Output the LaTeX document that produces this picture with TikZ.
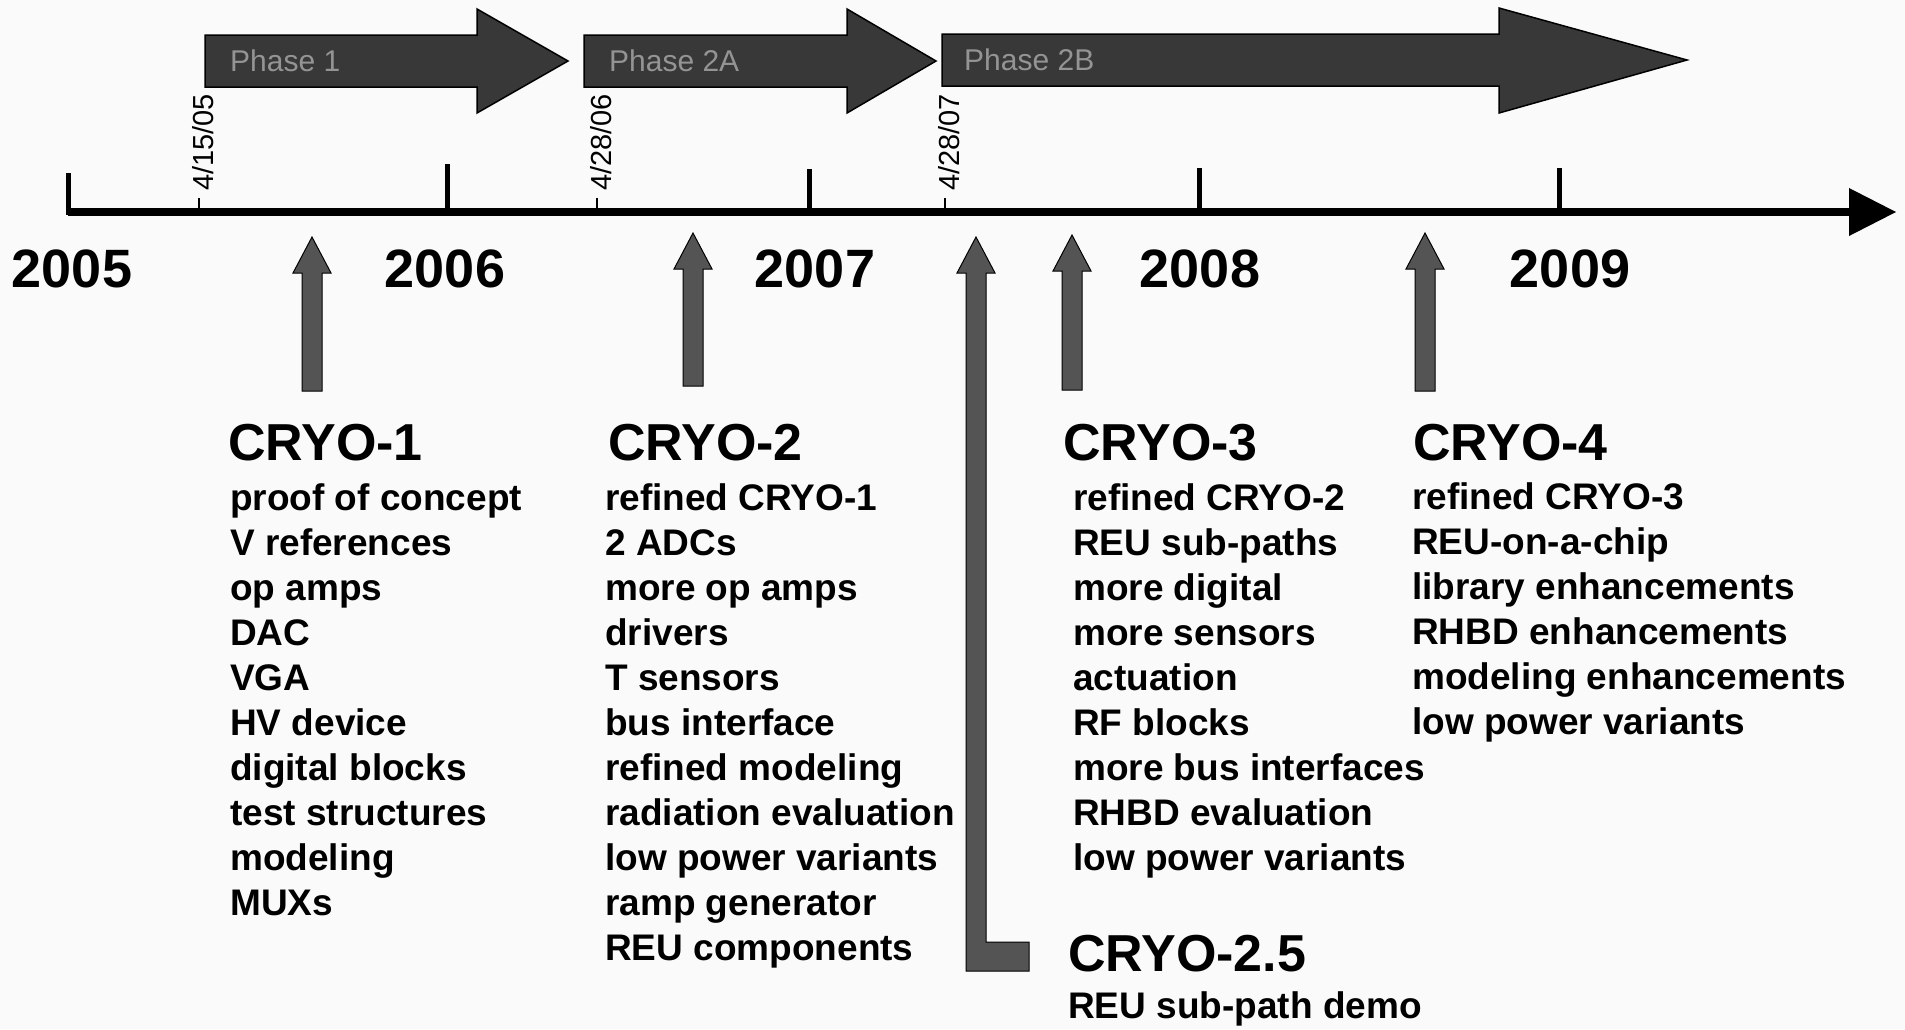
\documentclass[tikz,border=0pt]{standalone}
\usepackage{fontspec}
\setmainfont{Liberation Sans}
\usepackage{tikz}
\usepackage{xcolor}
\definecolor{paper}{rgb}{0.98,0.98,0.98}
\definecolor{phasefill}{rgb}{0.22,0.22,0.22}
\definecolor{phasetext}{rgb}{0.58,0.58,0.58}
\definecolor{arrowfill}{rgb}{0.33,0.33,0.33}

\begin{document}
\begin{tikzpicture}[x=1pt, y=-1pt,
  year/.style={font=\fontsize{54}{60}\selectfont\bfseries, anchor=base, inner sep=0},
  datelabel/.style={font=\fontsize{29}{32}\selectfont, rotate=90, anchor=west, inner sep=0},
  phase/.style={font=\fontsize{30}{34}\selectfont, text=phasetext, anchor=west, inner sep=0},
  title/.style={font=\fontsize{52}{60}\selectfont\bfseries, anchor=base west, inner sep=0},
  item/.style={font=\fontsize{37}{45}\selectfont\bfseries, anchor=base west, inner sep=0},
  phasearrow/.style={fill=phasefill, draw=black, line width=1.5},
  cryoarrow/.style={fill=arrowfill, draw=black, line width=1}]
%		\draw[help lines] (0,0) grid (1905,1029);
\fill[paper] (0,0) rectangle (1905,1029);
\useasboundingbox (0,0) rectangle (1905,1029);

% phases
\draw[phasearrow] (205,35) -- (477,35) -- (477,9) -- (568,61) -- (477,113) -- (477,87) -- (205,87) -- cycle;
\draw[phasearrow] (584,35) -- (847,35) -- (847,9) -- (936,61) -- (847,113) -- (847,87) -- (584,87) -- cycle;
\draw[phasearrow] (942,34) -- (1499,34) -- (1499,8) -- (1687,60) -- (1499,113) -- (1499,86) -- (942,86) -- cycle;
\node[phase] (ph1) at (230,61) {Phase 1};
\node[phase] (ph2a) at (609,61) {Phase 2A};
\node[phase] (ph2b) at (964,60) {Phase 2B};

% timeline
\coordinate (t0) at (68,212);
\coordinate (t1) at (1849,212);
\draw[line width=8] (t0) -- (t1);
\fill (1849,188) -- (1896,212) -- (1849,236) -- cycle;
\foreach \x/\top in {68/173, 447/164, 809/169, 1199/168, 1559/168}
  \draw[line width=5] (\x,\top) -- (\x,215);
\foreach \x/\yr in {72/2005, 445/2006, 815/2007, 1200/2008, 1570/2009}
  \node[year] (y\yr) at (\x,287) {\yr};

% start dates
\draw[line width=2] (199,198) -- (199,212);
\draw[line width=2] (597,198) -- (597,212);
\draw[line width=2] (945,198) -- (945,212);
\node[datelabel] (d1) at (203,191) {4/15/05};
\node[datelabel] (d2) at (601,191) {4/28/06};
\node[datelabel] (d3) at (949,191) {4/28/07};

% chips
\foreach \x/\tip/\bot in {312/237/391, 693/233/386, 1072/235/390, 1425/233/391}
  \draw[cryoarrow] (\x-10,\bot) -- (\x-10,\tip+36) -- (\x-19,\tip+36) -- (\x,\tip) -- (\x+19,\tip+36) -- (\x+10,\tip+36) -- (\x+10,\bot) -- cycle;
\draw[cryoarrow] (966,971) -- (966,273) -- (957,273) -- (976,237) -- (995,273) -- (986,273) -- (986,942) -- (1029,942) -- (1029,971) -- cycle;

\node[title] (c1) at (228,460) {CRYO-1};
\foreach \t [count=\i from 0] in {proof of concept, V references, op amps, DAC, VGA, HV device, digital blocks, test structures, modeling, MUXs}
  \node[item] (c1-\i) at (230,510+45*\i) {\t};

\node[title] (c2) at (608,460) {CRYO-2};
\foreach \t [count=\i from 0] in {refined CRYO-1, 2 ADCs, more op amps, drivers, T sensors, bus interface, refined modeling, radiation evaluation, low power variants, ramp generator, REU components}
  \node[item] (c2-\i) at (605,510+45*\i) {\t};

\node[title] (c3) at (1063,460) {CRYO-3};
\foreach \t [count=\i from 0] in {refined CRYO-2, REU sub-paths, more digital, more sensors, actuation, RF blocks, more bus interfaces, RHBD evaluation, low power variants}
  \node[item] (c3-\i) at (1073,510+45*\i) {\t};

\node[title] (c4) at (1413,460) {CRYO-4};
\foreach \t [count=\i from 0] in {refined CRYO-3, REU-on-a-chip, library enhancements, RHBD enhancements, modeling enhancements, low power variants}
  \node[item] (c4-\i) at (1412,509+45*\i) {\t};

\node[title] (c25) at (1068,971) {CRYO-2.5};
\node[item] (c25-0) at (1068,1018) {REU sub-path demo};
\end{tikzpicture}
\end{document}
